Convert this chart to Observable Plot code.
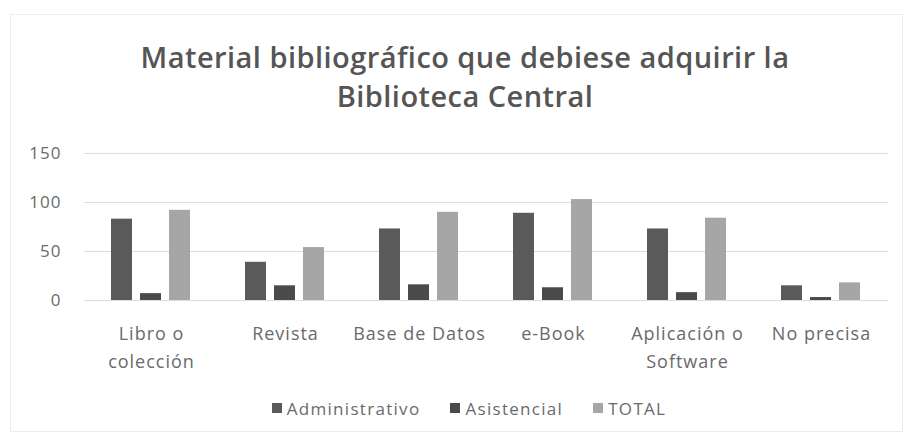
<!DOCTYPE html>
<html>
<head>
<meta charset="utf-8">
<script src="https://cdn.jsdelivr.net/npm/d3@7"></script>
<script src="https://cdn.jsdelivr.net/npm/@observablehq/plot@0.6"></script>
<style>
  html, body { margin: 0; padding: 0; background: #fff; }
  #wrap { position: relative; width: 908px; height: 435px; overflow: hidden; font-family: "Open Sans", sans-serif; color: #595959; }
  #border { position: absolute; left: 10px; top: 14px; width: 893px; height: 418px; border: 1px solid #ececec; box-sizing: border-box; }
  #title { position: absolute; left: 11px; width: 908px; top: 37px; text-align: center; font-size: 29px; letter-spacing: 0.45px; line-height: 39px; font-weight: 600; color: #555; }
  #chart { position: absolute; left: 0; top: 140px; }
  #legend { position: absolute; left: 15px; width: 908px; top: 396px; height: 24px; display: flex; justify-content: center; align-items: center; gap: 30px; font-size: 17px; letter-spacing: 1.3px; color: #6a6a6a; }
  #legend span.item { display: inline-flex; align-items: center; }
  #legend span.sw { display: inline-block; width: 10px; height: 10px; margin-right: 5px; }
</style>
</head>
<body>
<div id="wrap">
  <div id="border"></div>
  <div id="title">Material bibliográfico que debiese adquirir la<br>Biblioteca Central</div>
  <div id="chart"></div>
  <div id="legend"></div>
</div>
<script>
const categories = ["Libro o colección", "Revista", "Base de Datos", "e-Book", "Aplicación o Software", "No precisa"];
const categoryLabels = ["Libro o\ncolección", "Revista", "Base de Datos", "e-Book", "Aplicación o\nSoftware", "No precisa"];
const series = ["Administrativo", "Asistencial", "TOTAL"];
const administrativo = [83, 39, 73, 89, 73, 15];
const asistencial = [7, 15, 16, 13, 8, 3];
const total = [92, 54, 90, 103, 84, 18];
const yTicks = [0, 50, 100, 150];
const colors = ["#5a5a5a", "#4a4a4a", "#a6a6a6"];

const values = [administrativo, asistencial, total];
const data = [];
categories.forEach((c, i) => {
  series.forEach((s, j) => data.push({cat: c, serie: s, value: values[j][i]}));
});
const labelOf = new Map(categories.map((c, i) => [c, categoryLabels[i]]));

const chart = Plot.plot({
  width: 908,
  height: 250,
  marginTop: 13,
  marginBottom: 90,
  marginLeft: 83,
  marginRight: 19,
  style: {fontFamily: "Open Sans, sans-serif", fontSize: "17px", letterSpacing: "1px", color: "#6a6a6a", background: "transparent"},
  fx: {domain: categories, padding: 0},
  x: {domain: series, paddingInner: 0.27, paddingOuter: 0.9, axis: null},
  y: {domain: [0, 150]},
  color: {domain: series, range: colors},
  marks: [
    Plot.ruleY(yTicks, {stroke: "#dcdcdc", strokeWidth: 1, strokeOpacity: 1}),
    Plot.barY(data, {fx: "cat", x: "serie", y: "value", fill: "serie"}),
    Plot.axisY(yTicks, {tickSize: 0, tickPadding: 23, label: null, fontSize: 17}),
    Plot.axisFx({anchor: "bottom", tickSize: 0, tickPadding: 20, label: null, fontSize: 18, lineHeight: 1.55, tickFormat: d => labelOf.get(d)}),
  ]
});
document.getElementById("chart").appendChild(chart);

const legend = document.getElementById("legend");
series.forEach((s, j) => {
  const item = document.createElement("span");
  item.className = "item";
  const sw = document.createElement("span");
  sw.className = "sw";
  sw.style.background = colors[j];
  item.appendChild(sw);
  item.appendChild(document.createTextNode(s));
  legend.appendChild(item);
});
</script>
</body>
</html>
